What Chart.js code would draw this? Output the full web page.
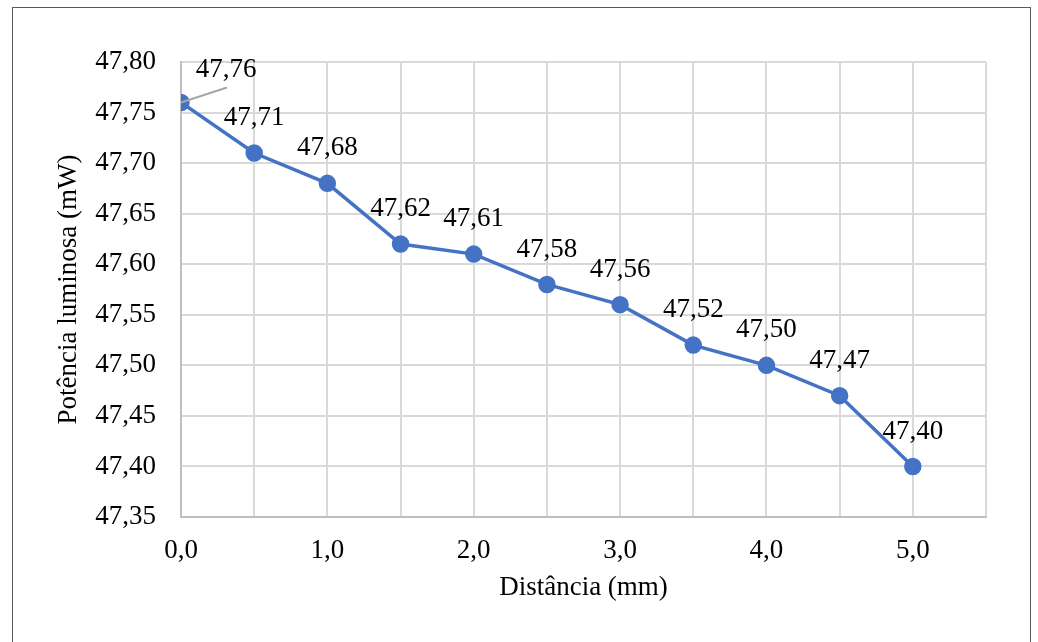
<!DOCTYPE html>
<html>
<head>
<meta charset="utf-8">
<script src="https://cdn.jsdelivr.net/npm/chart.js@4/dist/chart.umd.min.js"></script>
<style>
  html, body { margin: 0; padding: 0; background: #ffffff; overflow: hidden; }
  #frame { position: absolute; left: 12px; top: 7px; width: 1019px; height: 700px; border: 1.5px solid #5a5a5a; box-sizing: border-box; }
  #wrap { position: absolute; left: 0; top: 0; width: 1038px; height: 642px; }
</style>
</head>
<body>
<div id="frame"></div>
<div id="wrap"><canvas id="c" width="1038" height="642"></canvas></div>
<script>
// ---- data ----
const distances = [0.0, 0.5, 1.0, 1.5, 2.0, 2.5, 3.0, 3.5, 4.0, 4.5, 5.0];
const power = [47.76, 47.71, 47.68, 47.62, 47.61, 47.58, 47.56, 47.52, 47.50, 47.47, 47.40];
const xAxisTitle = 'Distância (mm)';
const yAxisTitle = 'Potência luminosa (mW)';

const FONT = "'Liberation Serif', 'Times New Roman', serif";
const FS = 27;
const fmt = (v, d) => v.toFixed(d).replace('.', ',');

const dataLabels = {
  id: 'dataLabels',
  afterDatasetsDraw(chart) {
    const ctx = chart.ctx;
    const meta = chart.getDatasetMeta(0);
    ctx.save();
    ctx.font = FS + 'px ' + FONT;
    ctx.fillStyle = '#000000';
    ctx.textAlign = 'center';
    ctx.textBaseline = 'middle';
    meta.data.forEach((pt, i) => {
      const v = chart.data.datasets[0].data[i].y;
      let dx = 0, dy = -35;
      if (i === 0) {
        dx = 45; dy = -33;
        ctx.strokeStyle = '#a6a6a6';
        ctx.lineWidth = 2;
        ctx.beginPath();
        ctx.moveTo(pt.x, pt.y);
        ctx.lineTo(pt.x + 46, pt.y - 15);
        ctx.stroke();
      }
      ctx.fillText(fmt(v, 2), pt.x + dx, pt.y + dy);
    });
    ctx.restore();
  }
};

new Chart(document.getElementById('c'), {
  type: 'line',
  data: {
    datasets: [{
      data: distances.map((d, i) => ({ x: d, y: power[i] })),
      borderColor: '#4472c4',
      backgroundColor: '#4472c4',
      borderWidth: 3.5,
      pointRadius: 7,
      pointHoverRadius: 7,
      pointBackgroundColor: '#4472c4',
      pointBorderColor: '#4472c4',
      tension: 0
    }]
  },
  options: {
    responsive: false,
    animation: false,
    events: [],
    layout: { padding: { left: 0, top: 62, right: 52, bottom: 38 } },
    plugins: { legend: { display: false }, tooltip: { enabled: false } },
    scales: {
      x: {
        type: 'linear',
        min: 0, max: 5.5,
        afterFit: s => { s.height = 87; },
        ticks: {
          stepSize: 0.5,
          padding: 18,
          color: '#000000',
          font: { family: FONT, size: FS },
          maxRotation: 0,
          autoSkip: false,
          callback: v => (Math.abs(v - Math.round(v)) < 1e-6 ? fmt(v, 1) : '')
        },
        grid: {
          drawTicks: false,
          lineWidth: 2,
          color: c => (c.tick && c.tick.value === 0 ? '#bfbfbf' : '#d9d9d9')
        },
        border: { display: true, color: '#bfbfbf', width: 2 },
        title: {
          display: true, text: xAxisTitle, color: '#000000',
          font: { family: FONT, size: FS }, padding: { top: 0, bottom: 0 }
        }
      },
      y: {
        type: 'linear',
        min: 47.35, max: 47.80,
        afterFit: s => { s.width = 181; },
        ticks: {
          stepSize: 0.05,
          padding: 25,
          color: '#000000',
          font: { family: FONT, size: FS },
          callback: v => fmt(v, 2)
        },
        grid: {
          drawTicks: false,
          lineWidth: 2,
          color: c => (c.tick && Math.abs(c.tick.value - 47.35) < 1e-6 ? '#bfbfbf' : '#d9d9d9')
        },
        border: { display: true, color: '#bfbfbf', width: 2 },
        title: {
          display: true, text: yAxisTitle, color: '#000000',
          font: { family: FONT, size: FS }, padding: { top: 53, bottom: 0 }
        }
      }
    }
  },
  plugins: [dataLabels]
});
</script>
</body>
</html>
